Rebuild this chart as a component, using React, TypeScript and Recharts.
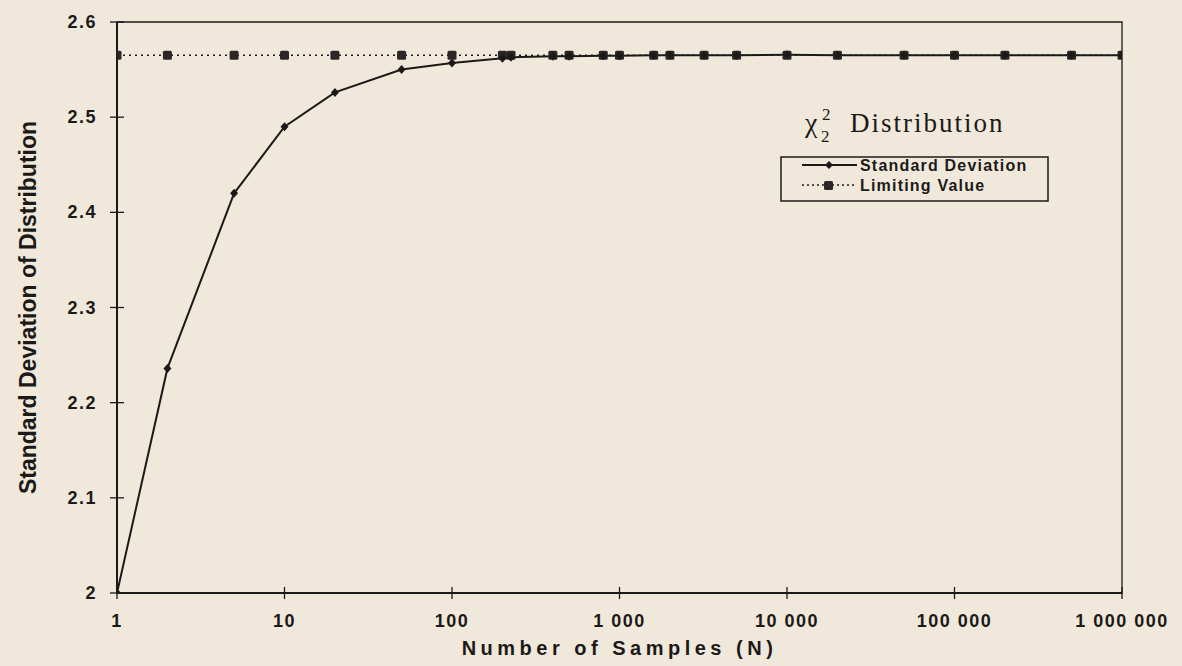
import React from "react";
import {
  LineChart,
  Line,
  XAxis,
  YAxis,
  ReferenceArea,
  Legend,
} from "recharts";

// Number of samples (N)
const sampleSizes = [
  1, 2, 5, 10, 20, 50, 100, 200, 225, 400, 500, 800, 1000, 1600, 2000, 3200,
  5000, 10000, 20000, 50000, 100000, 200000, 500000, 1000000,
];
// Standard deviation of the distribution
const stdDevValues = [
  2.0, 2.236, 2.42, 2.49, 2.526, 2.55, 2.557, 2.562, 2.563, 2.564, 2.564,
  2.5645, 2.5645, 2.565, 2.565, 2.565, 2.565, 2.5655, 2.565, 2.565, 2.565,
  2.565, 2.565, 2.565,
];
// Limiting value
const limitingValues = [
  2.565, 2.565, 2.565, 2.565, 2.565, 2.565, 2.565, 2.565, 2.565, 2.565, 2.565,
  2.565, 2.565, 2.565, 2.565, 2.565, 2.565, 2.565, 2.565, 2.565, 2.565, 2.565,
  2.565, 2.565,
];
const xTicks = [1, 10, 100, 1000, 10000, 100000, 1000000];
const yTicks = [2, 2.1, 2.2, 2.3, 2.4, 2.5, 2.6];

const data = sampleSizes.map((n, i) => ({
  n,
  sd: stdDevValues[i],
  lim: limitingValues[i],
}));

const INK = "#1c1a19";
const BG = "#f0e8da";
const SANS = "'Liberation Sans', Arial, sans-serif";
const SERIF = "'Liberation Serif', 'Times New Roman', serif";

const fmtX = (v: number) =>
  String(Math.round(v)).replace(/\B(?=(\d{3})+(?!\d))/g, " ");
const fmtY = (v: number) => (Math.abs(v - 2) < 1e-9 ? "2" : v.toFixed(1));

const XTick = (props: any) => {
  const { x, y, payload } = props;
  return (
    <g>
      <line x1={x} x2={x} y1={y - 6} y2={y + 6} stroke={INK} strokeWidth={1.3} />
      <text
        x={x}
        y={y + 34}
        textAnchor="middle"
        fontFamily={SANS}
        fontWeight="bold"
        fontSize={18}
        letterSpacing={1.5}
        fill={INK}
      >
        {fmtX(payload.value)}
      </text>
    </g>
  );
};

const YTick = (props: any) => {
  const { x, y, payload } = props;
  return (
    <g>
      <line x1={x - 7} x2={x + 7} y1={y} y2={y} stroke={INK} strokeWidth={1.3} />
      <text
        x={x - 20}
        y={y + 6}
        textAnchor="end"
        fontFamily={SANS}
        fontWeight="bold"
        fontSize={18}
        letterSpacing={1.5}
        fill={INK}
      >
        {fmtY(payload.value)}
      </text>
    </g>
  );
};

const YTitle = (props: any) => {
  const vb = props.viewBox || { x: 57, y: 22, width: 60, height: 571 };
  const cx = vb.x - 29;
  const cy = vb.y + vb.height / 2;
  return (
    <text
      x={cx}
      y={cy}
      transform={`rotate(-90 ${cx} ${cy})`}
      textAnchor="middle"
      dominantBaseline="central"
      fontFamily={SANS}
      fontWeight="bold"
      fontSize={23}
      fill={INK}
    >
      Standard Deviation of Distribution
    </text>
  );
};

const XTitle = (props: any) => {
  const vb = props.viewBox || { x: 117, y: 593, width: 1005, height: 50 };
  const cx = vb.x + vb.width / 2;
  return (
    <text
      x={cx}
      y={vb.y + 62}
      textAnchor="middle"
      fontFamily={SANS}
      fontWeight="bold"
      fontSize={20}
      letterSpacing={4.5}
      fill={INK}
    >
      Number of Samples (N)
    </text>
  );
};

const Diamond = (props: any) => {
  const { cx, cy, index } = props;
  if (cx == null || cy == null) return <g key={`d${index}`} />;
  return (
    <path
      key={`d${index}`}
      d={`M${cx},${cy - 4.5} L${cx + 4},${cy} L${cx},${cy + 4.5} L${cx - 4},${cy} Z`}
      fill={INK}
    />
  );
};

const Square = (props: any) => {
  const { cx, cy, index } = props;
  if (cx == null || cy == null) return <g key={`s${index}`} />;
  return (
    <rect
      key={`s${index}`}
      x={cx - 4.5}
      y={cy - 4.5}
      width={9}
      height={9}
      rx={1.5}
      fill="#2a2726"
    />
  );
};

const LegendBox = () => (
  <svg width={300} height={110} style={{ display: "block", overflow: "visible" }}>
    <text x={35} y={32} fontFamily={SERIF} fontSize={28} fill={INK}>
      χ
    </text>
    <text x={52} y={20} fontFamily={SERIF} fontSize={17} fill={INK}>
      2
    </text>
    <text x={51} y={42} fontFamily={SERIF} fontSize={17} fill={INK}>
      2
    </text>
    <text
      x={80}
      y={32}
      fontFamily={SERIF}
      fontSize={27}
      letterSpacing={2}
      fill={INK}
    >
      Distribution
    </text>
    <rect x={11} y={57} width={267} height={44} fill="none" stroke={INK} strokeWidth={1.5} />
    <line x1={32} x2={87} y1={65} y2={65} stroke={INK} strokeWidth={1.8} />
    <path d="M59,61 L63,65 L59,69 L55,65 Z" fill={INK} />
    <text
      x={90}
      y={71}
      fontFamily={SANS}
      fontWeight="bold"
      fontSize={16}
      letterSpacing={1.2}
      fill={INK}
    >
      Standard Deviation
    </text>
    <line
      x1={32}
      x2={87}
      y1={85}
      y2={85}
      stroke={INK}
      strokeWidth={1.5}
      strokeDasharray="2 3"
    />
    <rect x={54} y={81} width={9} height={9} rx={1.5} fill="#2a2726" />
    <text
      x={90}
      y={91}
      fontFamily={SANS}
      fontWeight="bold"
      fontSize={16}
      letterSpacing={1.2}
      fill={INK}
    >
      Limiting Value
    </text>
  </svg>
);

export default function App() {
  return (
    <div
      style={{
        position: "absolute",
        left: 0,
        top: 0,
        width: 1182,
        height: 666,
        background: BG,
      }}
    >
      <LineChart
        width={1182}
        height={666}
        data={data}
        margin={{ top: 22, right: 60, bottom: 23, left: 57 }}
      >
        <ReferenceArea
          x1={1}
          x2={1000000}
          y1={2}
          y2={2.6}
          fill="none"
          stroke={INK}
          strokeWidth={1.3}
          ifOverflow="visible"
        />
        <XAxis
          dataKey="n"
          type="number"
          scale="log"
          domain={[1, 1000000]}
          ticks={xTicks}
          allowDataOverflow
          tickSize={0}
          tickMargin={0}
          tickLine={false}
          axisLine={{ stroke: INK, strokeWidth: 2 }}
          tick={<XTick />}
          height={50}
          interval={0}
          label={<XTitle />}
        />
        <YAxis
          type="number"
          domain={[2, 2.6]}
          ticks={yTicks}
          allowDataOverflow
          tickSize={0}
          tickMargin={0}
          tickLine={false}
          axisLine={{ stroke: INK, strokeWidth: 2 }}
          tick={<YTick />}
          width={60}
          interval={0}
          label={<YTitle />}
        />
        <Legend
          layout="vertical"
          align="center"
          verticalAlign="middle"
          content={<LegendBox />}
          wrapperStyle={{ position: "absolute", left: 770, top: 100, width: 300, height: 110 }}
        />
        <Line
          type="linear"
          dataKey="lim"
          stroke={INK}
          strokeWidth={1.5}
          strokeDasharray="2 4"
          dot={<Square />}
          activeDot={false}
          isAnimationActive={false}
        />
        <Line
          type="linear"
          dataKey="sd"
          stroke={INK}
          strokeWidth={2}
          dot={<Diamond />}
          activeDot={false}
          isAnimationActive={false}
        />
      </LineChart>
    </div>
  );
}
